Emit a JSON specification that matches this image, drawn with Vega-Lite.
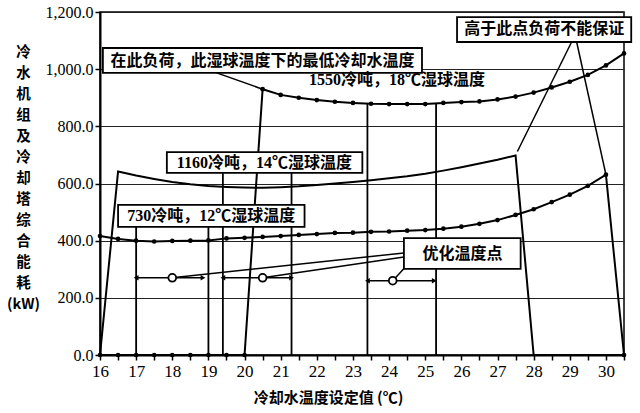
{
  "$schema": "https://vega.github.io/schema/vega-lite/v6.json",
  "width": 524,
  "height": 343,
  "autosize": {"type": "none"},
  "padding": {"left": 100, "top": 12, "right": 16, "bottom": 58},
  "background": "white",
  "config": {
    "view": {"stroke": "black", "strokeWidth": 1.5},
    "font": "Liberation Serif",
    "style": {"guide-label": {"font": "Liberation Serif", "fill": "black"}},
    "axis": {
      "domainColor": "black", "domainWidth": 2,
      "tickColor": "black", "tickSize": 5, "tickWidth": 1.5,
      "labelFont": "Liberation Serif", "labelColor": "black",
      "labelFlush": false, "labelOverlap": false,
      "titleFont": "Noto Sans CJK SC", "titleFontWeight": "bold", "titleColor": "black"
    },
    "axisX": {"grid": false, "labelFont": "Liberation Serif", "labelFontSize": 17, "labelPadding": 3, "titleFontSize": 15},
    "axisY": {"grid": true, "gridColor": "#222", "gridWidth": 1.2, "gridOpacity": 1, "labelFont": "Liberation Serif", "labelFontSize": 16, "labelPadding": 2, "titleFontSize": 14.5}
  },
  "datasets": {
    "series": [
      {"t": 16, "kw": 0, "s": "1550"}, {"t": 16.5, "kw": 0, "s": "1550"}, {"t": 17, "kw": 0, "s": "1550"}, {"t": 17.5, "kw": 0, "s": "1550"}, {"t": 18, "kw": 0, "s": "1550"}, {"t": 18.5, "kw": 0, "s": "1550"}, {"t": 19, "kw": 0, "s": "1550"}, {"t": 19.5, "kw": 0, "s": "1550"}, {"t": 20, "kw": 0, "s": "1550"}, {"t": 20.5, "kw": 930, "s": "1550"}, {"t": 21, "kw": 910, "s": "1550"}, {"t": 21.5, "kw": 900, "s": "1550"}, {"t": 22, "kw": 892, "s": "1550"}, {"t": 22.5, "kw": 886, "s": "1550"}, {"t": 23, "kw": 882, "s": "1550"}, {"t": 23.5, "kw": 879, "s": "1550"}, {"t": 24, "kw": 878, "s": "1550"}, {"t": 24.5, "kw": 878, "s": "1550"}, {"t": 25, "kw": 878, "s": "1550"}, {"t": 25.5, "kw": 882, "s": "1550"}, {"t": 26, "kw": 885, "s": "1550"}, {"t": 26.5, "kw": 887, "s": "1550"}, {"t": 27, "kw": 894, "s": "1550"}, {"t": 27.5, "kw": 904, "s": "1550"}, {"t": 28, "kw": 918, "s": "1550"}, {"t": 28.5, "kw": 936, "s": "1550"}, {"t": 29, "kw": 956, "s": "1550"}, {"t": 29.5, "kw": 980, "s": "1550"}, {"t": 30, "kw": 1013, "s": "1550"}, {"t": 30.5, "kw": 1055, "s": "1550"},
      {"t": 16, "kw": 0, "s": "1160"}, {"t": 16.5, "kw": 642, "s": "1160"}, {"t": 17, "kw": 628, "s": "1160"}, {"t": 17.5, "kw": 616, "s": "1160"}, {"t": 18, "kw": 605, "s": "1160"}, {"t": 18.5, "kw": 597, "s": "1160"}, {"t": 19, "kw": 591, "s": "1160"}, {"t": 19.5, "kw": 588, "s": "1160"}, {"t": 20, "kw": 586, "s": "1160"}, {"t": 20.5, "kw": 585, "s": "1160"}, {"t": 21, "kw": 587, "s": "1160"}, {"t": 21.5, "kw": 590, "s": "1160"}, {"t": 22, "kw": 595, "s": "1160"}, {"t": 22.5, "kw": 600, "s": "1160"}, {"t": 23, "kw": 605, "s": "1160"}, {"t": 23.5, "kw": 611, "s": "1160"}, {"t": 24, "kw": 618, "s": "1160"}, {"t": 24.5, "kw": 625, "s": "1160"}, {"t": 25, "kw": 634, "s": "1160"}, {"t": 25.5, "kw": 645, "s": "1160"}, {"t": 26, "kw": 657, "s": "1160"}, {"t": 26.5, "kw": 670, "s": "1160"}, {"t": 27, "kw": 683, "s": "1160"}, {"t": 27.5, "kw": 698, "s": "1160"}, {"t": 28, "kw": 0, "s": "1160"}, {"t": 28.5, "kw": 0, "s": "1160"}, {"t": 29, "kw": 0, "s": "1160"}, {"t": 29.5, "kw": 0, "s": "1160"}, {"t": 30, "kw": 0, "s": "1160"}, {"t": 30.5, "kw": 0, "s": "1160"},
      {"t": 16, "kw": 416, "s": "730"}, {"t": 16.5, "kw": 406, "s": "730"}, {"t": 17, "kw": 400, "s": "730"}, {"t": 17.5, "kw": 397, "s": "730"}, {"t": 18, "kw": 399, "s": "730"}, {"t": 18.5, "kw": 400, "s": "730"}, {"t": 19, "kw": 401, "s": "730"}, {"t": 19.5, "kw": 408, "s": "730"}, {"t": 20, "kw": 410, "s": "730"}, {"t": 20.5, "kw": 413, "s": "730"}, {"t": 21, "kw": 416, "s": "730"}, {"t": 21.5, "kw": 420, "s": "730"}, {"t": 22, "kw": 423, "s": "730"}, {"t": 22.5, "kw": 427, "s": "730"}, {"t": 23, "kw": 428, "s": "730"}, {"t": 23.5, "kw": 431, "s": "730"}, {"t": 24, "kw": 432, "s": "730"}, {"t": 24.5, "kw": 435, "s": "730"}, {"t": 25, "kw": 437, "s": "730"}, {"t": 25.5, "kw": 442, "s": "730"}, {"t": 26, "kw": 449, "s": "730"}, {"t": 26.5, "kw": 459, "s": "730"}, {"t": 27, "kw": 472, "s": "730"}, {"t": 27.5, "kw": 490, "s": "730"}, {"t": 28, "kw": 510, "s": "730"}, {"t": 28.5, "kw": 535, "s": "730"}, {"t": 29, "kw": 561, "s": "730"}, {"t": 29.5, "kw": 592, "s": "730"}, {"t": 30, "kw": 631, "s": "730"}, {"t": 30.5, "kw": 0, "s": "730"}
    ],
    "bands": [
      {"t": 17, "bottom": 0, "top": 448}, {"t": 19, "bottom": 0, "top": 448},
      {"t": 19.4, "bottom": 0, "top": 637}, {"t": 21.3, "bottom": 0, "top": 637},
      {"t": 23.4, "bottom": 0, "top": 880}, {"t": 25.3, "bottom": 0, "top": 879}
    ],
    "opt": [
      {"lo": 17, "opt": 18, "hi": 18.85, "kw": 270},
      {"lo": 19.4, "opt": 20.5, "hi": 21.3, "kw": 270},
      {"lo": 23.4, "opt": 24.1, "hi": 25.25, "kw": 260}
    ],
    "leaders": [
      {"xa": 19.23, "ya": 987, "xb": 20.5, "yb": 930},
      {"xa": 29.05, "ya": 1095, "xb": 27.55, "yb": 712},
      {"xa": 29.19, "ya": 1095, "xb": 30, "yb": 631},
      {"xa": 24.41, "ya": 357, "xb": 18, "yb": 270},
      {"xa": 24.41, "ya": 343, "xb": 20.5, "yb": 270},
      {"xa": 24.45, "ya": 308, "xb": 24.1, "yb": 260}
    ],
    "boxes": [
      {"xa": 16.08, "xb": 24.91, "ya": 987, "yb": 1074, "cx": 20.5, "cy": 1030, "label": "在此负荷，此湿球温度下的最低冷却水温度"},
      {"xa": 17.85, "xb": 23.26, "ya": 637, "yb": 710, "cx": 20.55, "cy": 673, "label": "1160冷吨，14℃湿球温度"},
      {"xa": 16.5, "xb": 21.66, "ya": 448, "yb": 525, "cx": 19.08, "cy": 486, "label": "730冷吨，12℃湿球温度"},
      {"xa": 24.41, "xb": 27.64, "ya": 301, "yb": 409, "cx": 26.03, "cy": 355, "label": "优化温度点"},
      {"xa": 25.88, "xb": 30.7, "ya": 1095, "yb": 1182, "cx": 28.29, "cy": 1139, "label": "高于此点负荷不能保证"}
    ],
    "freeLabels": [
      {"cx": 24.22, "cy": 962, "label": "1550冷吨，18℃湿球温度"}
    ]
  },
  "layer": [
    {
      "data": {"name": "bands"},
      "mark": {"type": "rule", "color": "black", "strokeWidth": 1.8},
      "encoding": {
        "x": {"field": "t", "type": "quantitative", "title": "冷却水温度设定值 (℃)",
          "scale": {"domain": [16, 30.5], "nice": false, "zero": false},
          "axis": {"values": [16, 16.5, 17, 17.5, 18, 18.5, 19, 19.5, 20, 20.5, 21, 21.5, 22, 22.5, 23, 23.5, 24, 24.5, 25, 25.5, 26, 26.5, 27, 27.5, 28, 28.5, 29, 29.5, 30, 30.5], "labelExpr": "datum.value % 1 === 0 ? format(datum.value, 'd') : ''", "titleX": 228, "titleY": 42, "titleAlign": "center", "titleBaseline": "middle"}},
        "y": {"field": "bottom", "type": "quantitative", "title": ["冷", "水", "机", "组", "及", "冷", "却", "塔", "综", "合", "能", "耗", "(kW)"],
          "scale": {"domain": [0, 1200], "nice": false},
          "axis": {"values": [0, 200, 400, 600, 800, 1000, 1200], "format": ",.1f", "titleAngle": 0, "titleLineHeight": 21, "titleX": -77, "titleY": 33, "titleAlign": "center", "titleBaseline": "top"}},
        "y2": {"field": "top"}
      }
    },
    {
      "data": {"name": "series"},
      "mark": {"type": "line", "color": "black", "strokeWidth": 2},
      "encoding": {
        "x": {"field": "t", "type": "quantitative", "title": "冷却水温度设定值 (℃)",
          "axis": {"values": [16, 16.5, 17, 17.5, 18, 18.5, 19, 19.5, 20, 20.5, 21, 21.5, 22, 22.5, 23, 23.5, 24, 24.5, 25, 25.5, 26, 26.5, 27, 27.5, 28, 28.5, 29, 29.5, 30, 30.5], "labelExpr": "datum.value % 1 === 0 ? format(datum.value, 'd') : ''", "titleX": 228, "titleY": 42, "titleAlign": "center", "titleBaseline": "middle"}},
        "y": {"field": "kw", "type": "quantitative", "title": ["冷", "水", "机", "组", "及", "冷", "却", "塔", "综", "合", "能", "耗", "(kW)"],
          "axis": {"values": [0, 200, 400, 600, 800, 1000, 1200], "format": ",.1f", "titleAngle": 0, "titleLineHeight": 21, "titleX": -77, "titleY": 33, "titleAlign": "center", "titleBaseline": "top"}},
        "detail": {"field": "s"}
      }
    },
    {
      "data": {"name": "series"},
      "transform": [{"filter": "datum.s !== '1160'"}],
      "mark": {"type": "point", "filled": true, "color": "black", "size": 22, "opacity": 1},
      "encoding": {
        "x": {"field": "t", "type": "quantitative", "title": "冷却水温度设定值 (℃)",
          "axis": {"values": [16, 16.5, 17, 17.5, 18, 18.5, 19, 19.5, 20, 20.5, 21, 21.5, 22, 22.5, 23, 23.5, 24, 24.5, 25, 25.5, 26, 26.5, 27, 27.5, 28, 28.5, 29, 29.5, 30, 30.5], "labelExpr": "datum.value % 1 === 0 ? format(datum.value, 'd') : ''", "titleX": 228, "titleY": 42, "titleAlign": "center", "titleBaseline": "middle"}},
        "y": {"field": "kw", "type": "quantitative", "title": ["冷", "水", "机", "组", "及", "冷", "却", "塔", "综", "合", "能", "耗", "(kW)"],
          "axis": {"values": [0, 200, 400, 600, 800, 1000, 1200], "format": ",.1f", "titleAngle": 0, "titleLineHeight": 21, "titleX": -77, "titleY": 33, "titleAlign": "center", "titleBaseline": "top"}}
      }
    },
    {
      "data": {"name": "opt"},
      "mark": {"type": "rule", "color": "black", "strokeWidth": 1.5},
      "encoding": {
        "x": {"field": "lo", "type": "quantitative", "title": "冷却水温度设定值 (℃)",
          "axis": {"values": [16, 16.5, 17, 17.5, 18, 18.5, 19, 19.5, 20, 20.5, 21, 21.5, 22, 22.5, 23, 23.5, 24, 24.5, 25, 25.5, 26, 26.5, 27, 27.5, 28, 28.5, 29, 29.5, 30, 30.5], "labelExpr": "datum.value % 1 === 0 ? format(datum.value, 'd') : ''", "titleX": 228, "titleY": 42, "titleAlign": "center", "titleBaseline": "middle"}},
        "x2": {"field": "hi"},
        "y": {"field": "kw", "type": "quantitative", "title": ["冷", "水", "机", "组", "及", "冷", "却", "塔", "综", "合", "能", "耗", "(kW)"],
          "axis": {"values": [0, 200, 400, 600, 800, 1000, 1200], "format": ",.1f", "titleAngle": 0, "titleLineHeight": 21, "titleX": -77, "titleY": 33, "titleAlign": "center", "titleBaseline": "top"}}
      }
    },
    {
      "data": {"name": "opt"},
      "mark": {"type": "point", "shape": "triangle-left", "filled": true, "color": "black", "size": 30, "opacity": 1},
      "encoding": {
        "x": {"field": "lo", "type": "quantitative", "title": "冷却水温度设定值 (℃)",
          "axis": {"values": [16, 16.5, 17, 17.5, 18, 18.5, 19, 19.5, 20, 20.5, 21, 21.5, 22, 22.5, 23, 23.5, 24, 24.5, 25, 25.5, 26, 26.5, 27, 27.5, 28, 28.5, 29, 29.5, 30, 30.5], "labelExpr": "datum.value % 1 === 0 ? format(datum.value, 'd') : ''", "titleX": 228, "titleY": 42, "titleAlign": "center", "titleBaseline": "middle"}},
        "y": {"field": "kw", "type": "quantitative", "title": ["冷", "水", "机", "组", "及", "冷", "却", "塔", "综", "合", "能", "耗", "(kW)"],
          "axis": {"values": [0, 200, 400, 600, 800, 1000, 1200], "format": ",.1f", "titleAngle": 0, "titleLineHeight": 21, "titleX": -77, "titleY": 33, "titleAlign": "center", "titleBaseline": "top"}}
      }
    },
    {
      "data": {"name": "opt"},
      "mark": {"type": "point", "shape": "triangle-right", "filled": true, "color": "black", "size": 30, "opacity": 1},
      "encoding": {
        "x": {"field": "hi", "type": "quantitative", "title": "冷却水温度设定值 (℃)",
          "axis": {"values": [16, 16.5, 17, 17.5, 18, 18.5, 19, 19.5, 20, 20.5, 21, 21.5, 22, 22.5, 23, 23.5, 24, 24.5, 25, 25.5, 26, 26.5, 27, 27.5, 28, 28.5, 29, 29.5, 30, 30.5], "labelExpr": "datum.value % 1 === 0 ? format(datum.value, 'd') : ''", "titleX": 228, "titleY": 42, "titleAlign": "center", "titleBaseline": "middle"}},
        "y": {"field": "kw", "type": "quantitative", "title": ["冷", "水", "机", "组", "及", "冷", "却", "塔", "综", "合", "能", "耗", "(kW)"],
          "axis": {"values": [0, 200, 400, 600, 800, 1000, 1200], "format": ",.1f", "titleAngle": 0, "titleLineHeight": 21, "titleX": -77, "titleY": 33, "titleAlign": "center", "titleBaseline": "top"}}
      }
    },
    {
      "data": {"name": "leaders"},
      "mark": {"type": "rule", "color": "black", "strokeWidth": 1.5},
      "encoding": {
        "x": {"field": "xa", "type": "quantitative", "title": "冷却水温度设定值 (℃)",
          "axis": {"values": [16, 16.5, 17, 17.5, 18, 18.5, 19, 19.5, 20, 20.5, 21, 21.5, 22, 22.5, 23, 23.5, 24, 24.5, 25, 25.5, 26, 26.5, 27, 27.5, 28, 28.5, 29, 29.5, 30, 30.5], "labelExpr": "datum.value % 1 === 0 ? format(datum.value, 'd') : ''", "titleX": 228, "titleY": 42, "titleAlign": "center", "titleBaseline": "middle"}},
        "x2": {"field": "xb"},
        "y": {"field": "ya", "type": "quantitative", "title": ["冷", "水", "机", "组", "及", "冷", "却", "塔", "综", "合", "能", "耗", "(kW)"],
          "axis": {"values": [0, 200, 400, 600, 800, 1000, 1200], "format": ",.1f", "titleAngle": 0, "titleLineHeight": 21, "titleX": -77, "titleY": 33, "titleAlign": "center", "titleBaseline": "top"}},
        "y2": {"field": "yb"}
      }
    },
    {
      "data": {"name": "opt"},
      "mark": {"type": "point", "shape": "circle", "filled": true, "fill": "white", "stroke": "black", "strokeWidth": 1.8, "size": 60, "opacity": 1},
      "encoding": {
        "x": {"field": "opt", "type": "quantitative", "title": "冷却水温度设定值 (℃)",
          "axis": {"values": [16, 16.5, 17, 17.5, 18, 18.5, 19, 19.5, 20, 20.5, 21, 21.5, 22, 22.5, 23, 23.5, 24, 24.5, 25, 25.5, 26, 26.5, 27, 27.5, 28, 28.5, 29, 29.5, 30, 30.5], "labelExpr": "datum.value % 1 === 0 ? format(datum.value, 'd') : ''", "titleX": 228, "titleY": 42, "titleAlign": "center", "titleBaseline": "middle"}},
        "y": {"field": "kw", "type": "quantitative", "title": ["冷", "水", "机", "组", "及", "冷", "却", "塔", "综", "合", "能", "耗", "(kW)"],
          "axis": {"values": [0, 200, 400, 600, 800, 1000, 1200], "format": ",.1f", "titleAngle": 0, "titleLineHeight": 21, "titleX": -77, "titleY": 33, "titleAlign": "center", "titleBaseline": "top"}}
      }
    },
    {
      "data": {"name": "boxes"},
      "mark": {"type": "rect", "fill": "white", "stroke": "black", "strokeWidth": 1.8},
      "encoding": {
        "x": {"field": "xa", "type": "quantitative", "title": "冷却水温度设定值 (℃)",
          "axis": {"values": [16, 16.5, 17, 17.5, 18, 18.5, 19, 19.5, 20, 20.5, 21, 21.5, 22, 22.5, 23, 23.5, 24, 24.5, 25, 25.5, 26, 26.5, 27, 27.5, 28, 28.5, 29, 29.5, 30, 30.5], "labelExpr": "datum.value % 1 === 0 ? format(datum.value, 'd') : ''", "titleX": 228, "titleY": 42, "titleAlign": "center", "titleBaseline": "middle"}},
        "x2": {"field": "xb"},
        "y": {"field": "ya", "type": "quantitative", "title": ["冷", "水", "机", "组", "及", "冷", "却", "塔", "综", "合", "能", "耗", "(kW)"],
          "axis": {"values": [0, 200, 400, 600, 800, 1000, 1200], "format": ",.1f", "titleAngle": 0, "titleLineHeight": 21, "titleX": -77, "titleY": 33, "titleAlign": "center", "titleBaseline": "top"}},
        "y2": {"field": "yb"}
      }
    },
    {
      "data": {"name": "boxes"},
      "mark": {"type": "text", "font": "Liberation Serif, Noto Sans CJK SC", "fontWeight": "bold", "fontSize": 16, "color": "black", "align": "center", "baseline": "middle"},
      "encoding": {
        "x": {"field": "cx", "type": "quantitative", "title": "冷却水温度设定值 (℃)",
          "axis": {"values": [16, 16.5, 17, 17.5, 18, 18.5, 19, 19.5, 20, 20.5, 21, 21.5, 22, 22.5, 23, 23.5, 24, 24.5, 25, 25.5, 26, 26.5, 27, 27.5, 28, 28.5, 29, 29.5, 30, 30.5], "labelExpr": "datum.value % 1 === 0 ? format(datum.value, 'd') : ''", "titleX": 228, "titleY": 42, "titleAlign": "center", "titleBaseline": "middle"}},
        "y": {"field": "cy", "type": "quantitative", "title": ["冷", "水", "机", "组", "及", "冷", "却", "塔", "综", "合", "能", "耗", "(kW)"],
          "axis": {"values": [0, 200, 400, 600, 800, 1000, 1200], "format": ",.1f", "titleAngle": 0, "titleLineHeight": 21, "titleX": -77, "titleY": 33, "titleAlign": "center", "titleBaseline": "top"}},
        "text": {"field": "label"}
      }
    },
    {
      "data": {"name": "freeLabels"},
      "mark": {"type": "text", "font": "Liberation Serif, Noto Sans CJK SC", "fontWeight": "bold", "fontSize": 16, "color": "black", "align": "center", "baseline": "middle"},
      "encoding": {
        "x": {"field": "cx", "type": "quantitative", "title": "冷却水温度设定值 (℃)",
          "axis": {"values": [16, 16.5, 17, 17.5, 18, 18.5, 19, 19.5, 20, 20.5, 21, 21.5, 22, 22.5, 23, 23.5, 24, 24.5, 25, 25.5, 26, 26.5, 27, 27.5, 28, 28.5, 29, 29.5, 30, 30.5], "labelExpr": "datum.value % 1 === 0 ? format(datum.value, 'd') : ''", "titleX": 228, "titleY": 42, "titleAlign": "center", "titleBaseline": "middle"}},
        "y": {"field": "cy", "type": "quantitative", "title": ["冷", "水", "机", "组", "及", "冷", "却", "塔", "综", "合", "能", "耗", "(kW)"],
          "axis": {"values": [0, 200, 400, 600, 800, 1000, 1200], "format": ",.1f", "titleAngle": 0, "titleLineHeight": 21, "titleX": -77, "titleY": 33, "titleAlign": "center", "titleBaseline": "top"}},
        "text": {"field": "label"}
      }
    }
  ]
}
